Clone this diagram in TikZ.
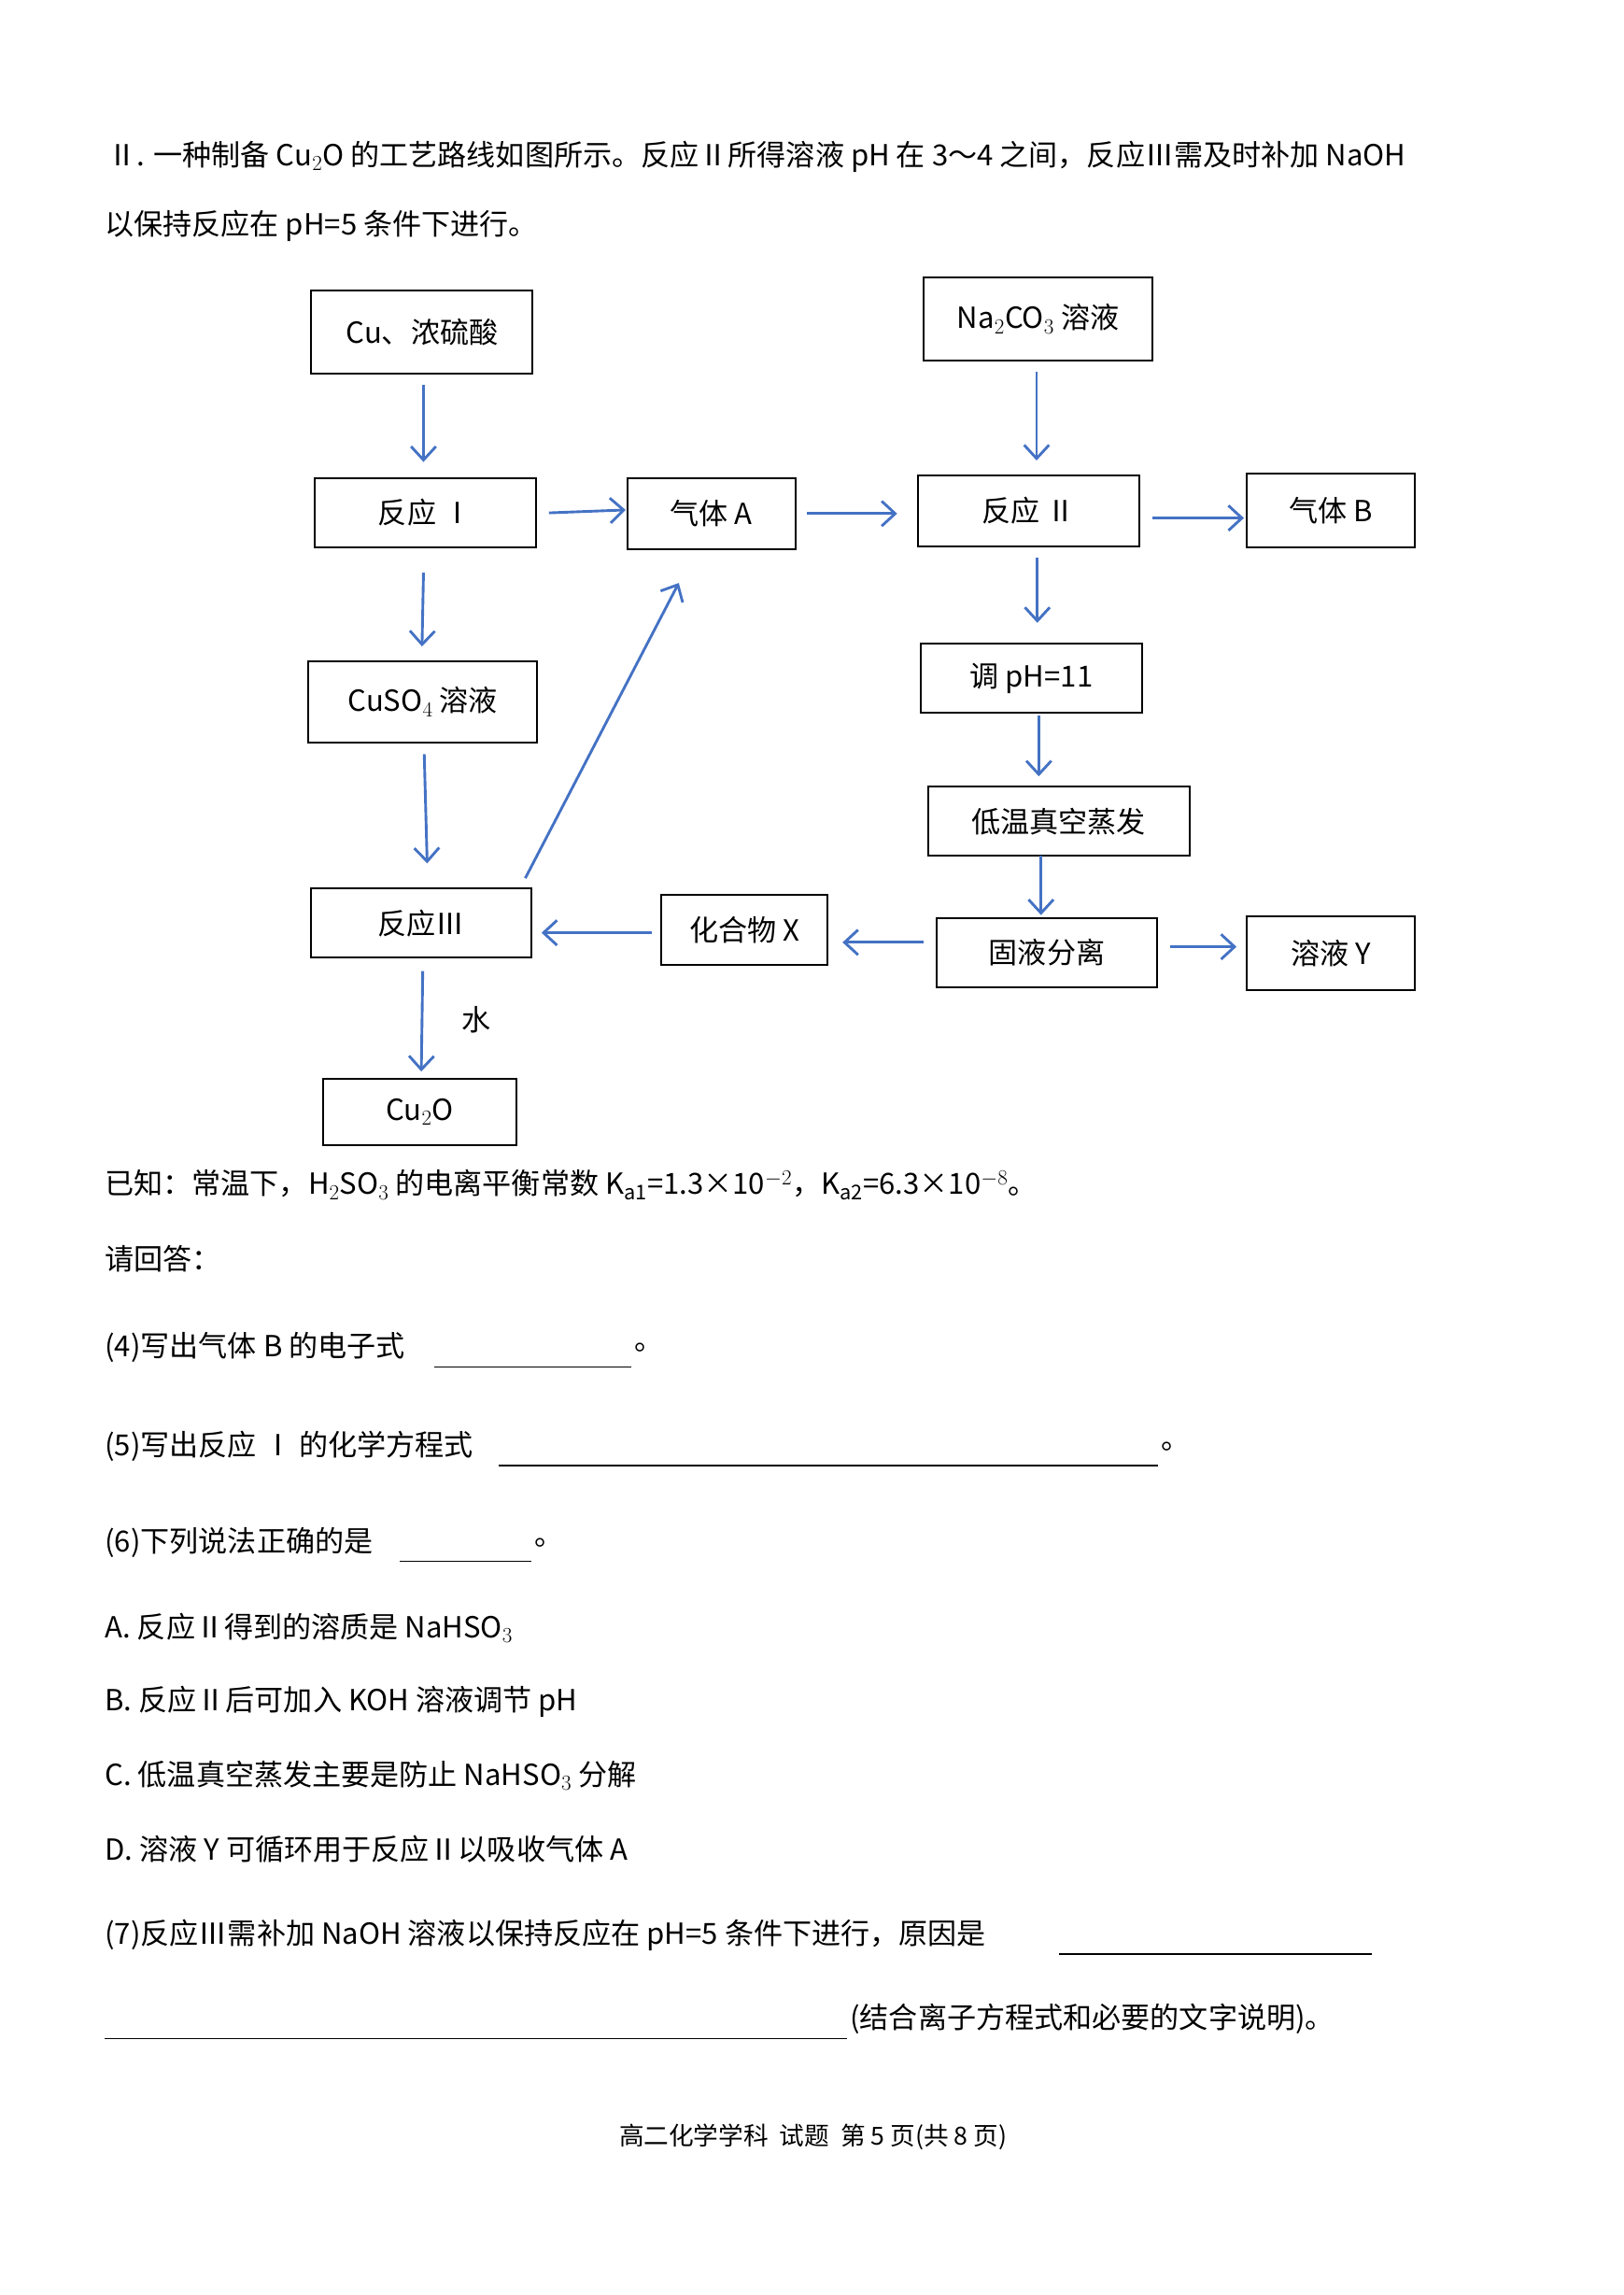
\documentclass[tikz,border=0pt]{standalone}
\usepackage{fontspec}
\setmainfont{Noto Sans CJK SC}
\usetikzlibrary{arrows.meta,calc}
\definecolor{flowblue}{HTML}{4472C4}
\begin{document}
\begin{tikzpicture}
	[x=0.05cm,y=-0.05cm,
	every node/.style={font=\fontsize{28}{32}\selectfont,inner sep=0pt},
	box/.style={draw,line width=1.8pt,anchor=north west,outer sep=0pt},
	txt/.style={anchor=west},
	flow/.style={flowblue,line width=2.6pt,-{Straight Barb[length=13pt,width=24pt]}},
	blank/.style={line width=1pt}
	]
	\useasboundingbox (2,2) rectangle (1102,1557);
	% flow chart boxes
	\node[box,minimum width=150*0.05cm,minimum height=56*0.05cm] (cu) at (213,199) {Cu、浓硫酸};
	\node[box,minimum width=155*0.05cm,minimum height=56*0.05cm] (na) at (628,190) {Na$_2$CO$_3$ 溶液};
	\node[box,minimum width=150*0.05cm,minimum height=47*0.05cm] (r1) at (215,326) {反应 Ⅰ};
	\node[box,minimum width=114*0.05cm,minimum height=48*0.05cm] (ga) at (427,326) {气体 A};
	\node[box,minimum width=150*0.05cm,minimum height=48*0.05cm] (r2) at (624,324) {反应 Ⅱ};
	\node[box,minimum width=114*0.05cm,minimum height=50*0.05cm] (gb) at (847,323) {气体 B};
	\node[box,minimum width=155*0.05cm,minimum height=55*0.05cm] (cs) at (211,450) {CuSO$_4$ 溶液};
	\node[box,minimum width=150*0.05cm,minimum height=47*0.05cm] (ph) at (626,438) {调 pH=11};
	\node[box,minimum width=177*0.05cm,minimum height=47*0.05cm] (ev) at (631,535) {低温真空蒸发};
	\node[box,minimum width=149*0.05cm,minimum height=47*0.05cm] (r3) at (213,604) {反应Ⅲ};
	\node[box,minimum width=113*0.05cm,minimum height=48*0.05cm] (cx) at (450,608) {化合物 X};
	\node[box,minimum width=149*0.05cm,minimum height=47*0.05cm] (sl) at (637,624) {固液分离};
	\node[box,minimum width=114*0.05cm,minimum height=50*0.05cm] (sy) at (847,623) {溶液 Y};
	\node[box,minimum width=131*0.05cm,minimum height=45*0.05cm] (co) at (221,733) {Cu$_2$O};
	% arrows
	\draw[flow] ($(cu.south)+(1,8)$) -- ($(cu.south |- r1.north)+(1,-11)$);
	\draw[flow] ($(r1.east)+(9,0)$) -- ($(r1.east -| ga.west)+(-1,-2)$);
	\draw[flow] ($(ga.east)+(8,0)$) -- ($(ga.east -| r2.west)+(-14,0)$);
	\draw[flow] ($(na.south)+(-1,8)$) -- ($(na.south |- r2.north)+(-1,-10)$);
	\draw[flow] ($(r2.east)+(9,5)$) -- ($(r2.east -| gb.west)+(-2,5)$);
	\draw[flow] ($(r1.south)+(-1,17)$) -- ($(r1.south |- cs.north)+(-2,-10)$);
	\draw[flow] ($(r2.south)+(6,8)$) -- ($(r2.south |- ph.north)+(6,-14)$);
	\draw[flow] ($(ph.south)+(5,2)$) -- ($(ph.south |- ev.north)+(5,-7)$);
	\draw[flow] ($(ev.south)+(-12,0)$) -- ($(ev.south |- sl.north)+(-12,-2)$);
	\draw[flow] ($(sl.west)+(-9,-7)$) -- ($(sl.west -| cx.east)+(10,-7)$);
	\draw[flow] ($(cx.west)+(-6,2)$) -- ($(cx.west -| r3.east)+(7,2)$);
	\draw[flow] ($(sl.east)+(9,-4)$) -- ($(sl.east -| sy.west)+(-7,-4)$);
	\draw[flow] ($(cs.south)+(1,8)$) -- ($(cs.south |- r3.north)+(3,-17)$);
	\draw[flow] ($(r3.north east)+(-4,-7)$) -- ($(ga.south east)+(-79,23)$);
	\draw[flow] ($(r3.south)+(1,9)$) -- ($(r3.south |- co.north)+(0,-5)$);
	\node (water) at (325,693) {水};
	% page text
	\node[txt] (l1) at (75,108) {Ⅱ. 一种制备 Cu$_2$O 的工艺路线如图所示。反应Ⅱ所得溶液 pH 在 3～4 之间，反应Ⅲ需及时补加 NaOH};
	\node[txt] (l2) at (73,155) {以保持反应在 pH=5 条件下进行。};
	\node[txt] (l3) at (73,805) {已知：常温下，H$_2$SO$_3$ 的电离平衡常数 K$_{\mathrm{a1}}$=1.3×10$^{-2}$，K$_{\mathrm{a2}}$=6.3×10$^{-8}$。};
	\node[txt] (l4) at (73,855) {请回答：};
	\node[txt] (q4) at (73,915) {(4)写出气体 B 的电子式};
	\node[txt] (q4e) at (432,915) {。};
	\node[txt] (q5) at (73,982) {(5)写出反应 Ⅰ 的化学方程式};
	\node[txt] (q5e) at (789,982) {。};
	\node[txt] (q6) at (73,1047) {(6)下列说法正确的是};
	\node[txt] (q6e) at (364,1047) {。};
	\node[txt] (oa) at (73,1105) {A. 反应Ⅱ得到的溶质是 NaHSO$_3$};
	\node[txt] (ob) at (73,1155) {B. 反应Ⅱ后可加入 KOH 溶液调节 pH};
	\node[txt] (oc) at (73,1205) {C. 低温真空蒸发主要是防止 NaHSO$_3$ 分解};
	\node[txt] (od) at (73,1255) {D. 溶液 Y 可循环用于反应Ⅱ以吸收气体 A};
	\node[txt] (q7) at (73,1313) {(7)反应Ⅲ需补加 NaOH 溶液以保持反应在 pH=5 条件下进行，原因是};
	\node[txt] (q7e) at (578,1370) {(结合离子方程式和必要的文字说明)。};
	\node (foot) at (553,1450) {\fontsize{24}{28}\selectfont 高二化学学科\ \ 试题\ \ 第 5 页(共 8 页)};
	% answer blanks
	\draw[blank] (296,928) -- (430,928);
	\draw[blank] (340,995) -- (787,995);
	\draw[blank] (273,1060) -- (362,1060);
	\draw[blank] (720,1326) -- (932,1326);
	\draw[blank] (73,1383) -- (576,1383);
\end{tikzpicture}
\end{document}
